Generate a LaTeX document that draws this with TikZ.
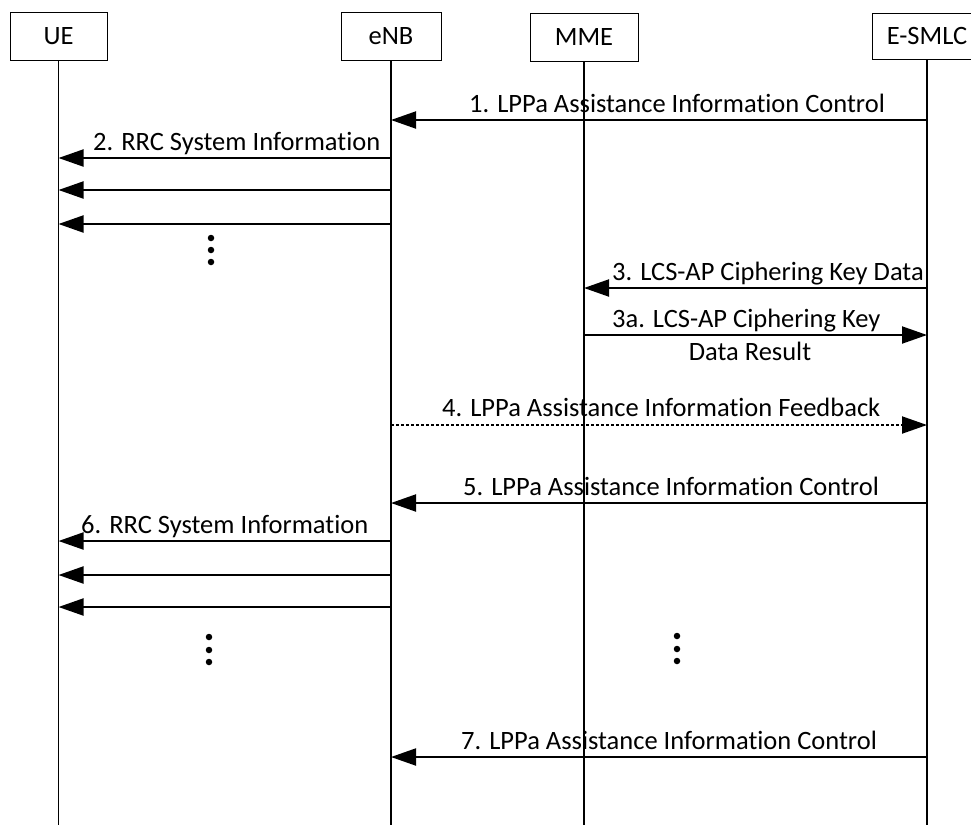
\documentclass[tikz,border=0pt]{standalone}
\usepackage{fontspec}
\setmainfont[Ligatures=CommonOff]{Carlito}
\usetikzlibrary{arrows.meta}
\begin{document}
\begin{tikzpicture}[x=1pt,y=-1pt,
  ent/.style={draw,line width=1pt,minimum height=48pt,inner sep=0pt,font=\fontsize{26.5}{30}\selectfont},
  life/.style={line width=1.2pt},
  msg/.style={line width=2pt,-{Triangle[length=25pt,width=17pt]}},
  lbl/.style={font=\fontsize{26.5}{30}\selectfont,inner sep=0pt,anchor=base west},
  dot/.style={circle,fill,inner sep=0pt,minimum size=6.5pt}]
\useasboundingbox (0,0) rectangle (971,825);
\node[ent,minimum width=97pt] (ue) at (58.5,36) {UE};
\node[ent,minimum width=100pt] (enb) at (391,36.5) {eNB};
\node[ent,minimum width=108pt] (mme) at (584,37) {MME};
\node[ent,minimum width=110pt,minimum height=46pt] (smlc) at (927,36) {E-SMLC};
\coordinate (ueb) at (58.5,825);
\coordinate (enbb) at (391,825);
\coordinate (mmeb) at (584,825);
\coordinate (smlcb) at (927,825);
\draw[life] (ue.south) -- (ueb);
\draw[life] (enb.south) -- (enbb);
\draw[life] (mme.south) -- (mmeb);
\draw[life] (smlc.south) -- (smlcb);
% message endpoints
\foreach \n/\y in {1/120,5/503,7/757}{
  \coordinate (s\n) at (927,\y); \coordinate (e\n) at (391,\y);}
\foreach \n/\y in {2/158,2b/190,2c/224,6/541,6b/575,6c/607}{
  \coordinate (s\n) at (391,\y); \coordinate (e\n) at (58.5,\y);}
\coordinate (s3) at (927,288); \coordinate (e3) at (584,288);
\coordinate (s3a) at (584,335); \coordinate (e3a) at (927,335);
\coordinate (s4) at (391,425); \coordinate (e4) at (927,425);
\draw[msg] (s1) -- (e1);
\node[lbl] (l1) at (469,112) {1. LPPa Assistance Information Control};
\draw[msg] (s2) -- (e2);
\node[lbl] (l2) at (93,150) {2. RRC System Information};
\draw[msg] (s2b) -- (e2b);
\draw[msg] (s2c) -- (e2c);
\node[dot] (d1) at (211,238) {};
\node[dot] (d2) at (211,250) {};
\node[dot] (d3) at (211,262) {};
\draw[msg] (s3) -- (e3);
\node[lbl] (l3) at (612,280) {3. LCS-AP Ciphering Key Data};
\draw[msg] (s3a) -- (e3a);
\node[lbl] (l3a) at (612,327) {3a. LCS-AP Ciphering Key};
\node[lbl,anchor=base] (l3b) at (750,360) {Data Result};
\draw[msg,dash pattern=on 3pt off 2pt] (s4) -- (e4);
\node[lbl] (l4) at (442,416) {4. LPPa Assistance Information Feedback};
\draw[msg] (s5) -- (e5);
\node[lbl] (l5) at (463,495) {5. LPPa Assistance Information Control};
\draw[msg] (s6) -- (e6);
\node[lbl] (l6) at (81,533) {6. RRC System Information};
\draw[msg] (s6b) -- (e6b);
\draw[msg] (s6c) -- (e6c);
\node[dot] (d4) at (209,637) {};
\node[dot] (d5) at (209,650) {};
\node[dot] (d6) at (209,662) {};
\node[dot] (d7) at (677,636) {};
\node[dot] (d8) at (677,649) {};
\node[dot] (d9) at (677,661) {};
\draw[msg] (s7) -- (e7);
\node[lbl] (l7) at (461,749) {7. LPPa Assistance Information Control};
\end{tikzpicture}
\end{document}
